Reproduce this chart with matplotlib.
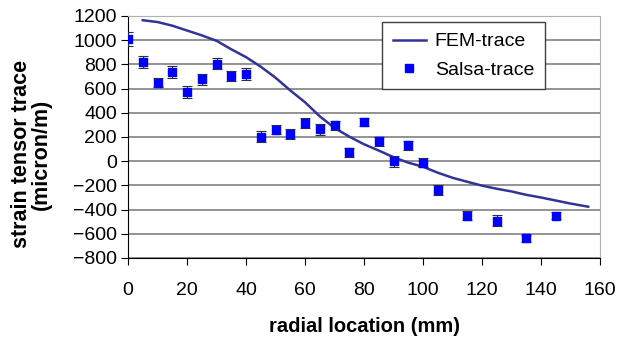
import matplotlib.pyplot as plt

plt.rcParams['font.family'] = ['Liberation Sans', 'DejaVu Sans']

# FEM-trace curve
fem_x = [5, 10, 15, 20, 25, 30, 35, 40, 45, 50, 55, 60, 65, 70, 75, 80,
         85, 90, 95, 100, 105, 110, 115, 120, 125, 130, 135, 140, 145, 150, 156]
fem_y = [1165, 1150, 1120, 1080, 1040, 995, 925, 860, 781, 690, 585, 487,
         371, 275, 203, 140, 88, 33, -12, -46, -95, -137, -170, -202, -228,
         -250, -278, -300, -325, -350, -376]

# Salsa-trace measurements
salsa_x = [0, 5, 10, 15, 20, 25, 30, 35, 40, 45, 50, 55, 60, 65, 70, 75,
           80, 85, 90, 95, 100, 105, 115, 125, 135, 145]
salsa_y = [1010, 820, 650, 740, 575, 677, 806, 704, 723, 203, 261, 225, 313,
           263, 296, 73, 324, 164, 0, 131, -12, -238, -450, -492, -637, -450]
salsa_err = [60, 50, 40, 50, 50, 45, 45, 45, 50, 45, 40, 40, 40, 45, 35, 40,
             35, 40, 45, 40, 35, 40, 35, 45, 30, 30]

fig = plt.figure(figsize=(6.19, 3.38), dpi=100)
ax = fig.add_axes([0.2068, 0.2367, 0.7625, 0.716])

fem_line, = ax.plot(fem_x, fem_y, color='#33339a', linewidth=1.8, zorder=3)
salsa = ax.errorbar(salsa_x, salsa_y, yerr=salsa_err, fmt='s', color='#0000ff',
                    markersize=6, ecolor='#303030', elinewidth=0.8, capsize=3.5,
                    capthick=0.8, zorder=4)

ax.set_xlim(0, 160)
ax.set_ylim(-800, 1200)
ax.set_xticks(range(0, 161, 20))
ax.set_yticks(range(-800, 1201, 200))
ax.yaxis.grid(True, color='#808080', linewidth=1.2)
ax.set_axisbelow(True)

for side in ['top', 'right']:
    ax.spines[side].set_color('#b0b0b0')
for side in ['left', 'bottom']:
    ax.spines[side].set_color('black')
ax.tick_params(direction='out', length=5, labelsize=14, color='black')
ax.tick_params(axis='x', pad=12)
ax.tick_params(axis='y', pad=3)

ax.set_xlabel('radial location (mm)', fontsize=14.5, fontweight='bold')
ax.xaxis.set_label_coords(0.5, -0.243)
ax.set_ylabel('strain tensor trace\n(micron/m)', fontsize=15.5, fontweight='bold',
              linespacing=0.9)
ax.yaxis.set_label_coords(-0.162, 0.43)

leg = ax.legend([fem_line, salsa[0]], ['FEM-trace', 'Salsa-trace'],
                loc='upper right', bbox_to_anchor=(0.883, 0.975),
                borderaxespad=0, fontsize=14, frameon=True, fancybox=False,
                handlelength=1.7, handletextpad=0.45, borderpad=0.55,
                labelspacing=0.55)
leg.get_frame().set_edgecolor('#404040')
leg.get_frame().set_linewidth(1.0)
leg.get_frame().set_alpha(1)

fig.savefig('out.png', dpi=100)
